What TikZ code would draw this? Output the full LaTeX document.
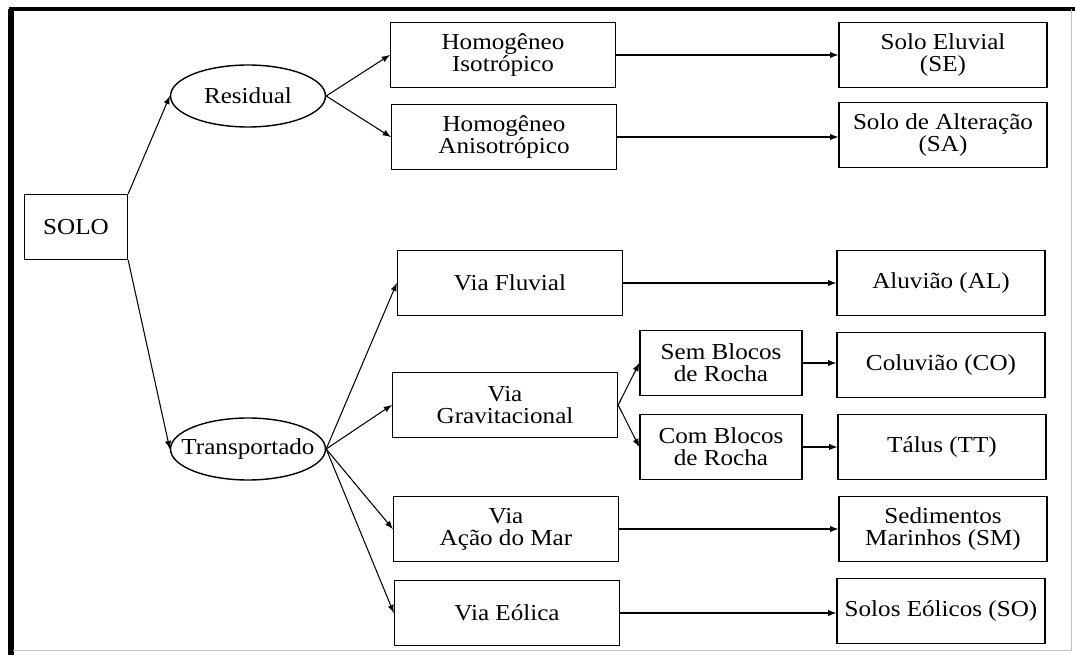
\documentclass[tikz,border=0pt]{standalone}
\usepackage{fontspec}
\setmainfont{Liberation Serif}[FakeStretch=1.1]
\usepackage{tikz}
\usetikzlibrary{shapes.geometric}

\begin{document}
\begin{tikzpicture}[x=0.02cm, y=-0.02cm, font=\fontsize{13}{12.5}\selectfont,
    box/.style={rectangle, draw, line width=0.8pt, align=center, minimum height=1.3cm, inner sep=2pt},
    wide/.style={box, minimum width=4.5cm}, res/.style={box, minimum width=4.16cm}, mid/.style={box, minimum width=3.24cm},
    oval/.style={draw, ellipse, line width=0.8pt, minimum width=3.1cm, minimum height=1.24cm, inner sep=0pt},
    n/.style={-latex, line width=0.6pt}]
        \useasboundingbox (0,0) rectangle (1075,655);
        % frame
        \draw[line width=3pt] (11,655) -- (11,9);
        \draw[line width=2pt] (9,9) -- (1075,9);
        \draw[black!25, line width=0.5pt] (1071,9) -- (1071,650) -- (13,650);
        % nodes
        \node[box, minimum width=2.06cm] (solo) at (76,227) {SOLO};
        \node[oval] (residual) at (248,96) {\makebox[0pt]{Residual}};
        \node[oval] (transp) at (248,449) {\makebox[0pt]{Transportado}};
        \node[wide] (iso) at (503,55) {Homogêneo\\Isotrópico};
        \node[wide] (aniso) at (504,137) {Homogêneo\\Anisotrópico};
        \node[res] (se) at (943,55) {Solo Eluvial\\(SE)};
        \node[res] (sa) at (943,135) {Solo de Alteração\\(SA)};
        \node[wide] (fluvial) at (510,283) {Via Fluvial};
        \node[res] (al) at (941,283) {Aluvião (AL)};
        \node[wide] (grav) at (505,405) {Via\\Gravitacional};
        \node[mid] (sem) at (721,363) {Sem Blocos\\de Rocha};
        \node[mid] (com) at (721,447) {Com Blocos\\de Rocha};
        \node[res] (co) at (941,365) {Coluvião (CO)};
        \node[res] (tt) at (942,447) {Tálus (TT)};
        \node[wide] (mar) at (506,529) {Via\\Ação do Mar};
        \node[res] (sm) at (943,529) {Sedimentos\\Marinhos (SM)};
        \node[wide] (eolica) at (507,613) {Via Eólica};
        \node[res] (so) at (941,611) {Solos Eólicos (SO)};
        % edges
        \draw [n] (solo.north east) -- (residual.west);
        \draw [n] (solo.south east) -- (transp.west);
        \draw [n] (residual.east) -- (iso.west);
        \draw [n] (residual.east) -- (aniso.west);
        \draw [n] (transp.east) -- (fluvial.west);
        \draw [n] (transp.east) -- (grav.west);
        \draw [n] (transp.east) -- (mar.west);
        \draw [n] (transp.east) -- (eolica.west);
        \draw [n] (grav.east) -- (sem.west);
        \draw [n] (grav.east) -- (com.west);
        \draw [n] (iso.east) -- (se.west);
        \draw [n] (aniso.east) -- (aniso.east -| sa.west);
        \draw [n] (fluvial.east) -- (al.west);
        \draw [n] (sem.east) -- (sem.east -| co.west);
        \draw [n] (com.east) -- (tt.west);
        \draw [n] (mar.east) -- (sm.west);
        \draw [n] (eolica.east) -- (eolica.east -| so.west);
\end{tikzpicture}
\end{document}
